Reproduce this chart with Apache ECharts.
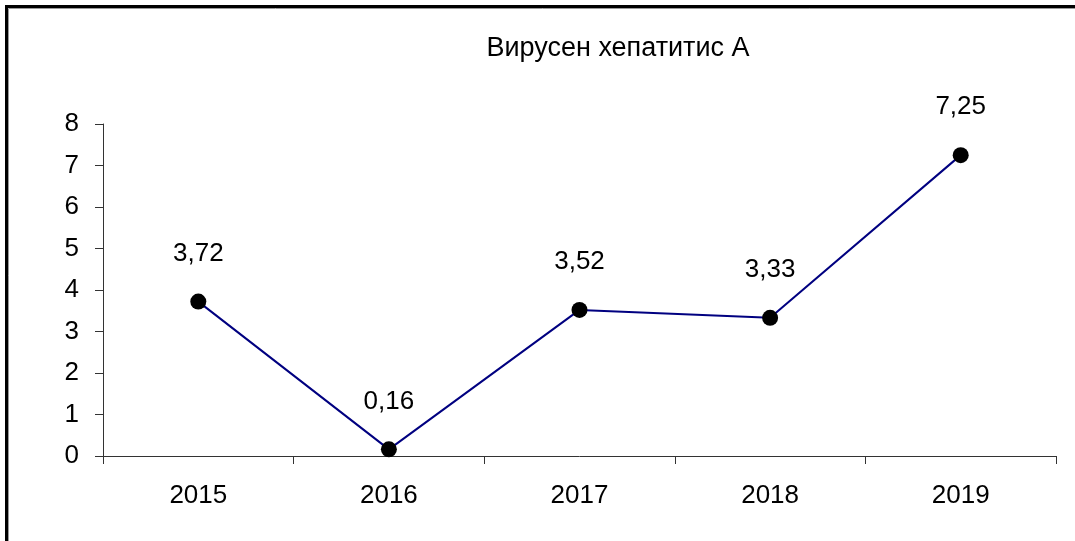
<!DOCTYPE html>
<html>
<head>
<meta charset="utf-8">
<script src="https://cdn.jsdelivr.net/npm/echarts@6/dist/echarts.min.js"></script>
<style>
html, body { margin: 0; padding: 0; background: #fff; }
#chart { width: 1075px; height: 541px; }
</style>
</head>
<body>
<div id="chart"></div>
<script>
// данни
var years = ['2015', '2016', '2017', '2018', '2019'];
var values = [3.72, 0.16, 3.52, 3.33, 7.25];
var titleText = 'Вирусен хепатитис А';

var font = '"Liberation Sans", Arial, sans-serif';
var chart = echarts.init(document.getElementById('chart'));

chart.setOption({
  animation: false,
  backgroundColor: '#fff',
  title: {
    text: titleText,
    left: 613,
    top: 30,
    textAlign: 'center',
    textStyle: { fontFamily: font, fontSize: 27, fontWeight: 'normal', color: '#000' }
  },
  grid: { left: 103, right: 19, top: 124, bottom: 85 },
  xAxis: {
    type: 'category',
    data: years,
    boundaryGap: true,
    axisLine: { lineStyle: { color: '#333', width: 1 } },
    axisTick: { show: true, length: 8, inside: false, lineStyle: { color: '#333' } },
    axisLabel: { margin: 27, fontFamily: font, fontSize: 26, color: '#000' },
    splitLine: { show: false }
  },
  yAxis: {
    type: 'value',
    min: 0,
    max: 8,
    interval: 1,
    axisLine: { show: true, lineStyle: { color: '#333', width: 1 } },
    axisTick: { show: true, length: 8, lineStyle: { color: '#333' } },
    axisLabel: { margin: 24, fontFamily: font, fontSize: 26, color: '#000' },
    splitLine: { show: false }
  },
  series: [{
    type: 'line',
    data: values,
    symbol: 'circle',
    symbolSize: 16,
    lineStyle: { color: '#000080', width: 2 },
    itemStyle: { color: '#000' },
    label: {
      show: true,
      position: 'top',
      distance: 27,
      fontFamily: font,
      fontSize: 26,
      color: '#000',
      formatter: function (p) { return p.value.toFixed(2).replace('.', ','); }
    }
  }],
  graphic: [
    { type: 'rect', silent: true, shape: { x: 6.5, y: 6.5, width: 3000, height: 3000 },
      style: { fill: 'none', stroke: '#000', lineWidth: 3 } },
    { type: 'rect', silent: true, shape: { x: 8.5, y: 8.5, width: 3000, height: 3000 },
      style: { fill: 'none', stroke: '#999', lineWidth: 1 } }
  ]
});
</script>
</body>
</html>
